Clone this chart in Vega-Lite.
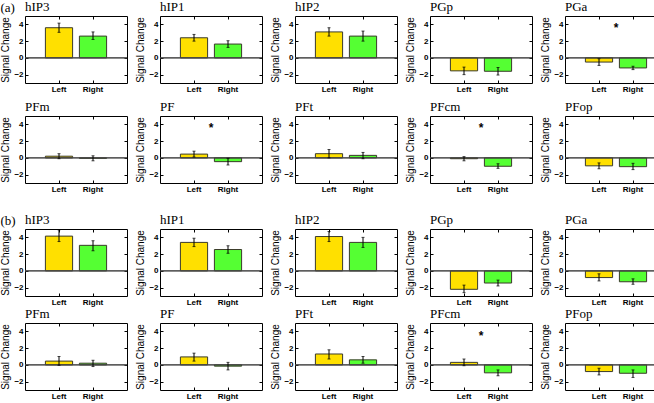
{
  "$schema": "https://vega.github.io/schema/vega-lite/v6.json",
  "background": "white",
  "padding": {"left": 0, "top": 0, "right": 0, "bottom": 0},
  "datasets": {
    "bars": [
      {"block": "a", "region": "hIP3", "cond": "Left", "value": 3.6, "lo": 3.05, "hi": 4.15, "sig": false},
      {"block": "a", "region": "hIP3", "cond": "Right", "value": 2.6, "lo": 2.2, "hi": 3.1, "sig": false},
      {"block": "a", "region": "hIP1", "cond": "Left", "value": 2.4, "lo": 2.0, "hi": 2.8, "sig": false},
      {"block": "a", "region": "hIP1", "cond": "Right", "value": 1.65, "lo": 1.25, "hi": 2.05, "sig": false},
      {"block": "a", "region": "hIP2", "cond": "Left", "value": 3.1, "lo": 2.6, "hi": 3.6, "sig": false},
      {"block": "a", "region": "hIP2", "cond": "Right", "value": 2.6, "lo": 2.0, "hi": 3.2, "sig": false},
      {"block": "a", "region": "PGp", "cond": "Left", "value": -1.55, "lo": -2.0, "hi": -1.1, "sig": false},
      {"block": "a", "region": "PGp", "cond": "Right", "value": -1.6, "lo": -2.05, "hi": -1.15, "sig": false},
      {"block": "a", "region": "PGa", "cond": "Left", "value": -0.5, "lo": -0.9, "hi": -0.1, "sig": true},
      {"block": "a", "region": "PGa", "cond": "Right", "value": -1.2, "lo": -1.4, "hi": -1.0, "sig": false},
      {"block": "a", "region": "PFm", "cond": "Left", "value": 0.2, "lo": -0.1, "hi": 0.5, "sig": false},
      {"block": "a", "region": "PFm", "cond": "Right", "value": -0.05, "lo": -0.35, "hi": 0.25, "sig": false},
      {"block": "a", "region": "PF", "cond": "Left", "value": 0.45, "lo": 0.1, "hi": 0.8, "sig": true},
      {"block": "a", "region": "PF", "cond": "Right", "value": -0.45, "lo": -0.85, "hi": -0.05, "sig": false},
      {"block": "a", "region": "PFt", "cond": "Left", "value": 0.5, "lo": 0.0, "hi": 1.0, "sig": false},
      {"block": "a", "region": "PFt", "cond": "Right", "value": 0.3, "lo": -0.1, "hi": 0.65, "sig": false},
      {"block": "a", "region": "PFcm", "cond": "Left", "value": -0.1, "lo": -0.35, "hi": 0.15, "sig": true},
      {"block": "a", "region": "PFcm", "cond": "Right", "value": -1.0, "lo": -1.25, "hi": -0.7, "sig": false},
      {"block": "a", "region": "PFop", "cond": "Left", "value": -0.95, "lo": -1.3, "hi": -0.6, "sig": false},
      {"block": "a", "region": "PFop", "cond": "Right", "value": -1.05, "lo": -1.4, "hi": -0.65, "sig": false},
      {"block": "b", "region": "hIP3", "cond": "Left", "value": 4.15, "lo": 3.5, "hi": 4.9, "sig": false},
      {"block": "b", "region": "hIP3", "cond": "Right", "value": 3.05, "lo": 2.4, "hi": 3.6, "sig": false},
      {"block": "b", "region": "hIP1", "cond": "Left", "value": 3.4, "lo": 2.9, "hi": 3.9, "sig": false},
      {"block": "b", "region": "hIP1", "cond": "Right", "value": 2.55, "lo": 2.1, "hi": 3.0, "sig": false},
      {"block": "b", "region": "hIP2", "cond": "Left", "value": 4.1, "lo": 3.5, "hi": 4.7, "sig": false},
      {"block": "b", "region": "hIP2", "cond": "Right", "value": 3.4, "lo": 2.8, "hi": 4.0, "sig": false},
      {"block": "b", "region": "PGp", "cond": "Left", "value": -2.2, "lo": -2.6, "hi": -1.7, "sig": false},
      {"block": "b", "region": "PGp", "cond": "Right", "value": -1.45, "lo": -1.8, "hi": -1.1, "sig": false},
      {"block": "b", "region": "PGa", "cond": "Left", "value": -0.8, "lo": -1.2, "hi": -0.35, "sig": false},
      {"block": "b", "region": "PGa", "cond": "Right", "value": -1.3, "lo": -1.6, "hi": -0.95, "sig": false},
      {"block": "b", "region": "PFm", "cond": "Left", "value": 0.45, "lo": -0.05, "hi": 1.0, "sig": false},
      {"block": "b", "region": "PFm", "cond": "Right", "value": 0.2, "lo": -0.2, "hi": 0.55, "sig": false},
      {"block": "b", "region": "PF", "cond": "Left", "value": 0.95, "lo": 0.45, "hi": 1.4, "sig": false},
      {"block": "b", "region": "PF", "cond": "Right", "value": -0.15, "lo": -0.6, "hi": 0.3, "sig": false},
      {"block": "b", "region": "PFt", "cond": "Left", "value": 1.3, "lo": 0.7, "hi": 1.8, "sig": false},
      {"block": "b", "region": "PFt", "cond": "Right", "value": 0.6, "lo": 0.2, "hi": 1.0, "sig": false},
      {"block": "b", "region": "PFcm", "cond": "Left", "value": 0.3, "lo": -0.1, "hi": 0.7, "sig": true},
      {"block": "b", "region": "PFcm", "cond": "Right", "value": -0.95, "lo": -1.3, "hi": -0.6, "sig": false},
      {"block": "b", "region": "PFop", "cond": "Left", "value": -0.8, "lo": -1.2, "hi": -0.4, "sig": false},
      {"block": "b", "region": "PFop", "cond": "Right", "value": -1.0, "lo": -1.5, "hi": -0.6, "sig": false}
    ]
  },
  "vconcat": [
    {
      "data": {"name": "bars"},
      "transform": [{"filter": "datum.block === 'a'"}],
      "title": {"text": "(a)", "anchor": "start", "frame": "bounds", "font": "Liberation Serif", "fontSize": 13, "fontWeight": "normal", "offset": -13, "dy": 2},
      "columns": 5,
      "facet": {"field": "region", "type": "nominal", "sort": ["hIP3", "hIP1", "hIP2", "PGp", "PGa", "PFm", "PF", "PFt", "PFcm", "PFop"], "header": {"title": null}},
      "spacing": {"column": 7, "row": 6},
      "resolve": {"axis": {"x": "independent", "y": "independent"}},
      "spec": {
        "width": 102, "height": 67,
        "layer": [
          {"mark": {"type": "bar", "stroke": "#3a3a2a", "strokeWidth": 1},
           "encoding": {
             "x": {"field": "cond", "type": "nominal", "sort": ["Left", "Right"], "scale": {"paddingInner": 0.2, "paddingOuter": 0.6}, "axis": {"orient": "bottom"}},
             "y": {"field": "value", "type": "quantitative", "scale": {"domain": [-3, 5]}, "axis": {"orient": "left", "values": [-2, 0, 2, 4], "title": "Signal Change"}},
             "color": {"field": "cond", "type": "nominal", "scale": {"domain": ["Left", "Right"], "range": ["#FFE000", "#55FF33"]}, "legend": null}}},
          {"mark": {"type": "rule", "color": "#444444", "strokeWidth": 1},
           "encoding": {"y": {"datum": 0, "axis": {"orient": "right", "values": [-2, 0, 2, 4], "labels": false, "title": null}}}},
          {"mark": {"type": "rule", "color": "black", "strokeWidth": 1},
           "encoding": {
             "x": {"field": "cond", "type": "nominal", "sort": ["Left", "Right"], "axis": {"orient": "top", "labels": false, "title": null}},
             "y": {"field": "lo", "type": "quantitative", "axis": null},
             "y2": {"field": "hi"}}},
          {"mark": {"type": "tick", "color": "black", "size": 3, "thickness": 1},
           "encoding": {
             "x": {"field": "cond", "type": "nominal", "sort": ["Left", "Right"], "axis": null},
             "y": {"field": "lo", "type": "quantitative", "axis": null}}},
          {"mark": {"type": "tick", "color": "black", "size": 3, "thickness": 1},
           "encoding": {
             "x": {"field": "cond", "type": "nominal", "sort": ["Left", "Right"], "axis": null},
             "y": {"field": "hi", "type": "quantitative", "axis": null}}},
          {"transform": [{"filter": "datum.sig"}],
           "mark": {"type": "text", "text": "*", "fontSize": 12, "fontWeight": "bold", "font": "Liberation Sans", "baseline": "middle", "color": "black"},
           "encoding": {
             "x": {"field": "cond", "type": "nominal", "sort": ["Left", "Right"], "bandPosition": 1.125, "axis": null},
             "y": {"datum": 3.55, "axis": null}}}
        ],
        "resolve": {"axis": {"x": "independent", "y": "independent"}}
      }
    },
    {
      "data": {"name": "bars"},
      "transform": [{"filter": "datum.block === 'b'"}],
      "title": {"text": "(b)", "anchor": "start", "frame": "bounds", "font": "Liberation Serif", "fontSize": 13, "fontWeight": "normal", "offset": -13, "dy": 2},
      "columns": 5,
      "facet": {"field": "region", "type": "nominal", "sort": ["hIP3", "hIP1", "hIP2", "PGp", "PGa", "PFm", "PF", "PFt", "PFcm", "PFop"], "header": {"title": null}},
      "spacing": {"column": 7, "row": 0},
      "resolve": {"axis": {"x": "independent", "y": "independent"}},
      "spec": {
        "width": 102, "height": 67,
        "layer": [
          {"mark": {"type": "bar", "stroke": "#3a3a2a", "strokeWidth": 1},
           "encoding": {
             "x": {"field": "cond", "type": "nominal", "sort": ["Left", "Right"], "scale": {"paddingInner": 0.2, "paddingOuter": 0.6}, "axis": {"orient": "bottom"}},
             "y": {"field": "value", "type": "quantitative", "scale": {"domain": [-3, 5]}, "axis": {"orient": "left", "values": [-2, 0, 2, 4], "title": "Signal Change"}},
             "color": {"field": "cond", "type": "nominal", "scale": {"domain": ["Left", "Right"], "range": ["#FFE000", "#55FF33"]}, "legend": null}}},
          {"mark": {"type": "rule", "color": "#444444", "strokeWidth": 1},
           "encoding": {"y": {"datum": 0, "axis": {"orient": "right", "values": [-2, 0, 2, 4], "labels": false, "title": null}}}},
          {"mark": {"type": "rule", "color": "black", "strokeWidth": 1},
           "encoding": {
             "x": {"field": "cond", "type": "nominal", "sort": ["Left", "Right"], "axis": {"orient": "top", "labels": false, "title": null}},
             "y": {"field": "lo", "type": "quantitative", "axis": null},
             "y2": {"field": "hi"}}},
          {"mark": {"type": "tick", "color": "black", "size": 3, "thickness": 1},
           "encoding": {
             "x": {"field": "cond", "type": "nominal", "sort": ["Left", "Right"], "axis": null},
             "y": {"field": "lo", "type": "quantitative", "axis": null}}},
          {"mark": {"type": "tick", "color": "black", "size": 3, "thickness": 1},
           "encoding": {
             "x": {"field": "cond", "type": "nominal", "sort": ["Left", "Right"], "axis": null},
             "y": {"field": "hi", "type": "quantitative", "axis": null}}},
          {"transform": [{"filter": "datum.sig"}],
           "mark": {"type": "text", "text": "*", "fontSize": 12, "fontWeight": "bold", "font": "Liberation Sans", "baseline": "middle", "color": "black"},
           "encoding": {
             "x": {"field": "cond", "type": "nominal", "sort": ["Left", "Right"], "bandPosition": 1.125, "axis": null},
             "y": {"datum": 3.45, "axis": null}}}
        ],
        "resolve": {"axis": {"x": "independent", "y": "independent"}}
      }
    }
  ],
  "spacing": 19,
  "config": {
    "view": {"stroke": "black", "strokeWidth": 1},
    "header": {"labelFont": "Liberation Serif", "labelFontSize": 13, "labelColor": "black", "labelAnchor": "start", "labelPadding": 2, "labelExpr": "' ' + datum.label"},
    "axis": {"domain": false, "grid": false, "tickSize": -3, "tickColor": "black", "labelFont": "Liberation Sans", "labelFontSize": 8, "labelFontWeight": "bold", "labelColor": "black", "labelPadding": 5, "titleFont": "Liberation Sans", "titleFontSize": 10, "titleFontWeight": "normal", "titleColor": "black", "titlePadding": 3, "labelAngle": 0},
    "axisX": {"title": null},
    "title": {"color": "black"}
  }
}
